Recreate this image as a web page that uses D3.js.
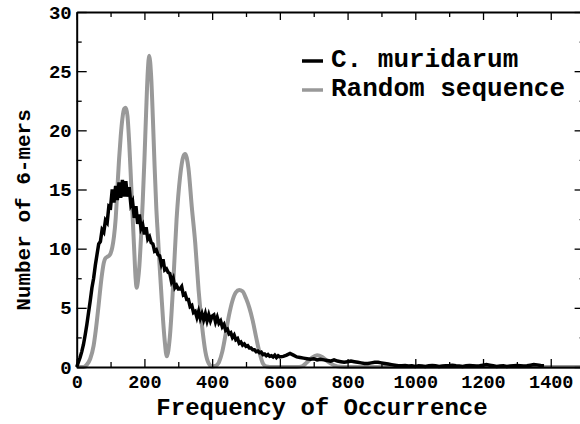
<!DOCTYPE html>
<html>
<head>
<meta charset="utf-8">
<script src="https://cdn.jsdelivr.net/npm/d3@7"></script>
<style>
body { margin: 0; background: #fff; }
text { font-family: "Courier New", "Liberation Mono", monospace; font-weight: bold; fill: #000; }
</style>
</head>
<body>
<div id="chart"></div>
<script>
const width = 580
const height = 424

const margin = { top: 12, bottom: 57, left: 76.7, right: -4.6 }

// C. muridarum: frequency (step 5 up to 600, then step 10)
const muridarumX = d3.range(0, 600, 5).concat(d3.range(600, 1501, 10))
const muridarumY = [
    0, 0.4, 0.8, 1.3, 1.9, 2.7, 3.6, 4.6, 5.6, 6.7, 7.5, 8.6, 9.5, 10.4, 10.6, 11.6, 11.4, 12.4, 12.2, 13.6,
    13.5, 15.0, 13.9, 15.3, 14.1, 15.6, 14.3, 15.8, 14.4, 15.7, 14.4, 15.2, 13.7, 14.0, 12.6, 13.6, 12.1, 12.9, 11.7, 12.0,
    11.2, 11.8, 10.8, 11.0, 10.5, 10.4, 9.8, 9.9, 9.5, 9.4, 8.7, 9.1, 8.2, 8.3, 8.0, 7.9, 7.2, 7.5, 6.7, 6.9,
    6.6, 6.6, 6.8, 6.1, 6.2, 5.7, 5.7, 5.1, 5.2, 4.6, 4.7, 4.2, 4.7, 4.1, 4.5, 4.0, 4.5, 3.9, 4.4, 3.9,
    4.3, 4.4, 3.8, 4.2, 3.7, 3.9, 3.4, 3.6, 3.1, 3.2, 2.8, 2.9, 2.5, 2.7, 2.3, 2.4, 2.0, 2.1, 1.85, 1.95,
    1.75, 1.8, 1.6, 1.6, 1.45, 1.45, 1.3, 1.35, 1.2, 1.25, 1.05, 1.1, 0.95, 1.05, 0.9, 0.95, 0.85, 1.0, 0.8, 0.95,
    0.85, 0.9, 1.0, 1.15, 1.0, 0.85, 0.8, 0.75, 0.7, 0.65, 0.7, 0.6, 0.65, 0.6, 0.55, 0.5, 0.6, 0.5, 0.45, 0.4,
    0.45, 0.5, 0.45, 0.4, 0.35, 0.3, 0.3, 0.35, 0.4, 0.4, 0.35, 0.3, 0.25, 0.2, 0.15, 0.1, 0.1, 0.12, 0.08, 0.1,
    0.05, 0.1, 0.08, 0.05, 0.1, 0.12, 0.1, 0.05, 0.08, 0.1, 0.12, 0.15, 0.1, 0.08, 0.05, 0.1, 0.12, 0.1, 0.08, 0.1,
    0.15, 0.2, 0.15, 0.1, 0.05, 0.08, 0.1, 0.05, 0.08, 0.1, 0.12, 0.1, 0.08, 0.1, 0.15, 0.2, 0.18, 0.12, 0.1
]

// Random sequence
const randomX = [0, 20, 30, 40, 50, 55, 60, 65, 70, 75, 80, 85, 90, 95, 100, 105, 110, 115, 120, 125,
    130, 135, 140, 145, 150, 155, 160, 165, 170, 174, 177, 181, 185, 190, 195, 200, 205, 210, 214, 220,
    225, 230, 235, 240, 245, 250, 255, 260, 266, 275, 285, 295, 305, 315, 320, 330, 340, 350, 360, 370,
    380, 390, 400, 410, 420, 430, 440, 450, 460, 470, 480, 490, 500, 510, 520, 530, 540, 550, 560, 580,
    650, 665, 680, 695, 710, 725, 740, 760, 780, 800, 1500]
const randomY = [0, 0, 0.2, 0.7, 1.8, 2.8, 4.0, 5.3, 6.7, 7.9, 8.8, 9.2, 9.3, 9.4, 9.6, 10.1, 11.0, 12.5, 15.0, 17.5,
    19.5, 21.0, 21.8, 21.9, 21.2, 19.0, 16.0, 12.8, 9.8, 7.5, 6.7, 7.3, 8.5, 11.0, 14.0, 17.5, 21.5, 25.0, 26.3, 24.5,
    21.0, 17.0, 13.5, 11.0, 8.5, 6.2, 4.0, 2.2, 0.9, 2.5, 7.0, 12.5, 16.0, 17.8, 18.0, 16.8, 13.5, 10.5, 6.5, 3.5,
    1.3, 0.3, 0.05, 0.1, 0.4, 1.3, 2.8, 4.4, 5.6, 6.3, 6.5, 6.4, 5.8, 5.0, 3.9, 2.5, 1.2, 0.3, 0.05, 0,
    0, 0.05, 0.4, 0.8, 1.0, 0.85, 0.5, 0.15, 0.02, 0, 0]

const xTicks = [0, 200, 400, 600, 800, 1000, 1200, 1400]
const yTicks = [0, 5, 10, 15, 20, 25, 30]
const seriesNames = ["C. muridarum", "Random sequence"]
const seriesColors = ["#000000", "#999999"]

const svg = d3.select("#chart").append("svg").attr("width", width).attr("height", height)
const innerW = width - margin.left - margin.right
const innerH = height - margin.top - margin.bottom
const g = svg.append("g").attr("transform", `translate(${margin.left}, ${margin.top})`)

const x = d3.scaleLinear().domain([0, 1500]).range([0, innerW])
const y = d3.scaleLinear().domain([0, 30]).range([innerH, 0])

const line = d3.line().x(d => x(d[0])).y(d => y(d[1]))

g.append("path")
    .datum(randomX.map((v, i) => [v, randomY[i]]))
    .attr("d", line.curve(d3.curveMonotoneX))
    .attr("fill", "none").attr("stroke", seriesColors[1]).attr("stroke-width", 4)

g.append("path")
    .datum(muridarumX.map((v, i) => [v, muridarumY[i]]))
    .attr("d", line.curve(d3.curveLinear))
    .attr("fill", "none").attr("stroke", seriesColors[0]).attr("stroke-width", 3.5)

// axes: major ticks with labels, minor ticks without, all pointing inward
const minorX = d3.range(100, 1500, 200)
const minorY = d3.range(2.5, 30, 5)

const styleAxis = sel => {
    sel.select(".domain").attr("stroke-width", 2)
    sel.selectAll(".tick line").attr("stroke-width", 1.3)
}

const xAxis = g.append("g").attr("transform", `translate(0, ${innerH})`)
    .call(d3.axisBottom(x).tickValues(xTicks).tickFormat(d3.format("d")).tickSizeInner(-8).tickSizeOuter(0).tickPadding(11))
xAxis.call(styleAxis)
xAxis.selectAll("text").attr("font-size", 18.5).attr("dy", "0.55em")
g.append("g").attr("transform", `translate(0, ${innerH})`)
    .call(d3.axisBottom(x).tickValues(minorX).tickSize(-5).tickFormat(""))
    .call(styleAxis).select(".domain").remove()

const xTop = g.append("g")
    .call(d3.axisTop(x).tickValues(xTicks).tickSizeInner(-8).tickSizeOuter(0).tickFormat(""))
xTop.call(styleAxis)
g.append("g").call(d3.axisTop(x).tickValues(minorX).tickSize(-5).tickFormat(""))
    .call(styleAxis).select(".domain").remove()

const yAxis = g.append("g")
    .call(d3.axisLeft(y).tickValues(yTicks).tickSizeInner(-10).tickSizeOuter(0).tickPadding(5))
yAxis.call(styleAxis)
yAxis.selectAll("text").attr("font-size", 19)
g.append("g").call(d3.axisLeft(y).tickValues(minorY).tickSize(-5).tickFormat(""))
    .call(styleAxis).select(".domain").remove()

g.append("g").attr("transform", `translate(${innerW}, 0)`)
    .call(d3.axisRight(y).tickValues(yTicks).tickSizeInner(-10).tickSizeOuter(0).tickFormat(""))
    .call(styleAxis)
g.append("g").attr("transform", `translate(${innerW}, 0)`)
    .call(d3.axisRight(y).tickValues(minorY).tickSize(-5).tickFormat(""))
    .call(styleAxis).select(".domain").remove()

// titles
svg.append("text").attr("x", 322).attr("y", 415).attr("text-anchor", "middle")
    .attr("font-size", 24).text("Frequency of Occurrence")
svg.append("text").attr("transform", "translate(30, 210) rotate(-90)").attr("text-anchor", "middle")
    .attr("font-size", 21).text("Number of 6-mers")

// legend
const legend = svg.append("g").attr("transform", "translate(302, 61)")
seriesNames.forEach((name, i) => {
    legend.append("line").attr("x1", 0).attr("x2", 21).attr("y1", i * 29).attr("y2", i * 29)
        .attr("stroke", seriesColors[i]).attr("stroke-width", 3.5)
    legend.append("text").attr("x", 29).attr("y", i * 29 + 6).attr("font-size", 26).text(name)
})
</script>
</body>
</html>
